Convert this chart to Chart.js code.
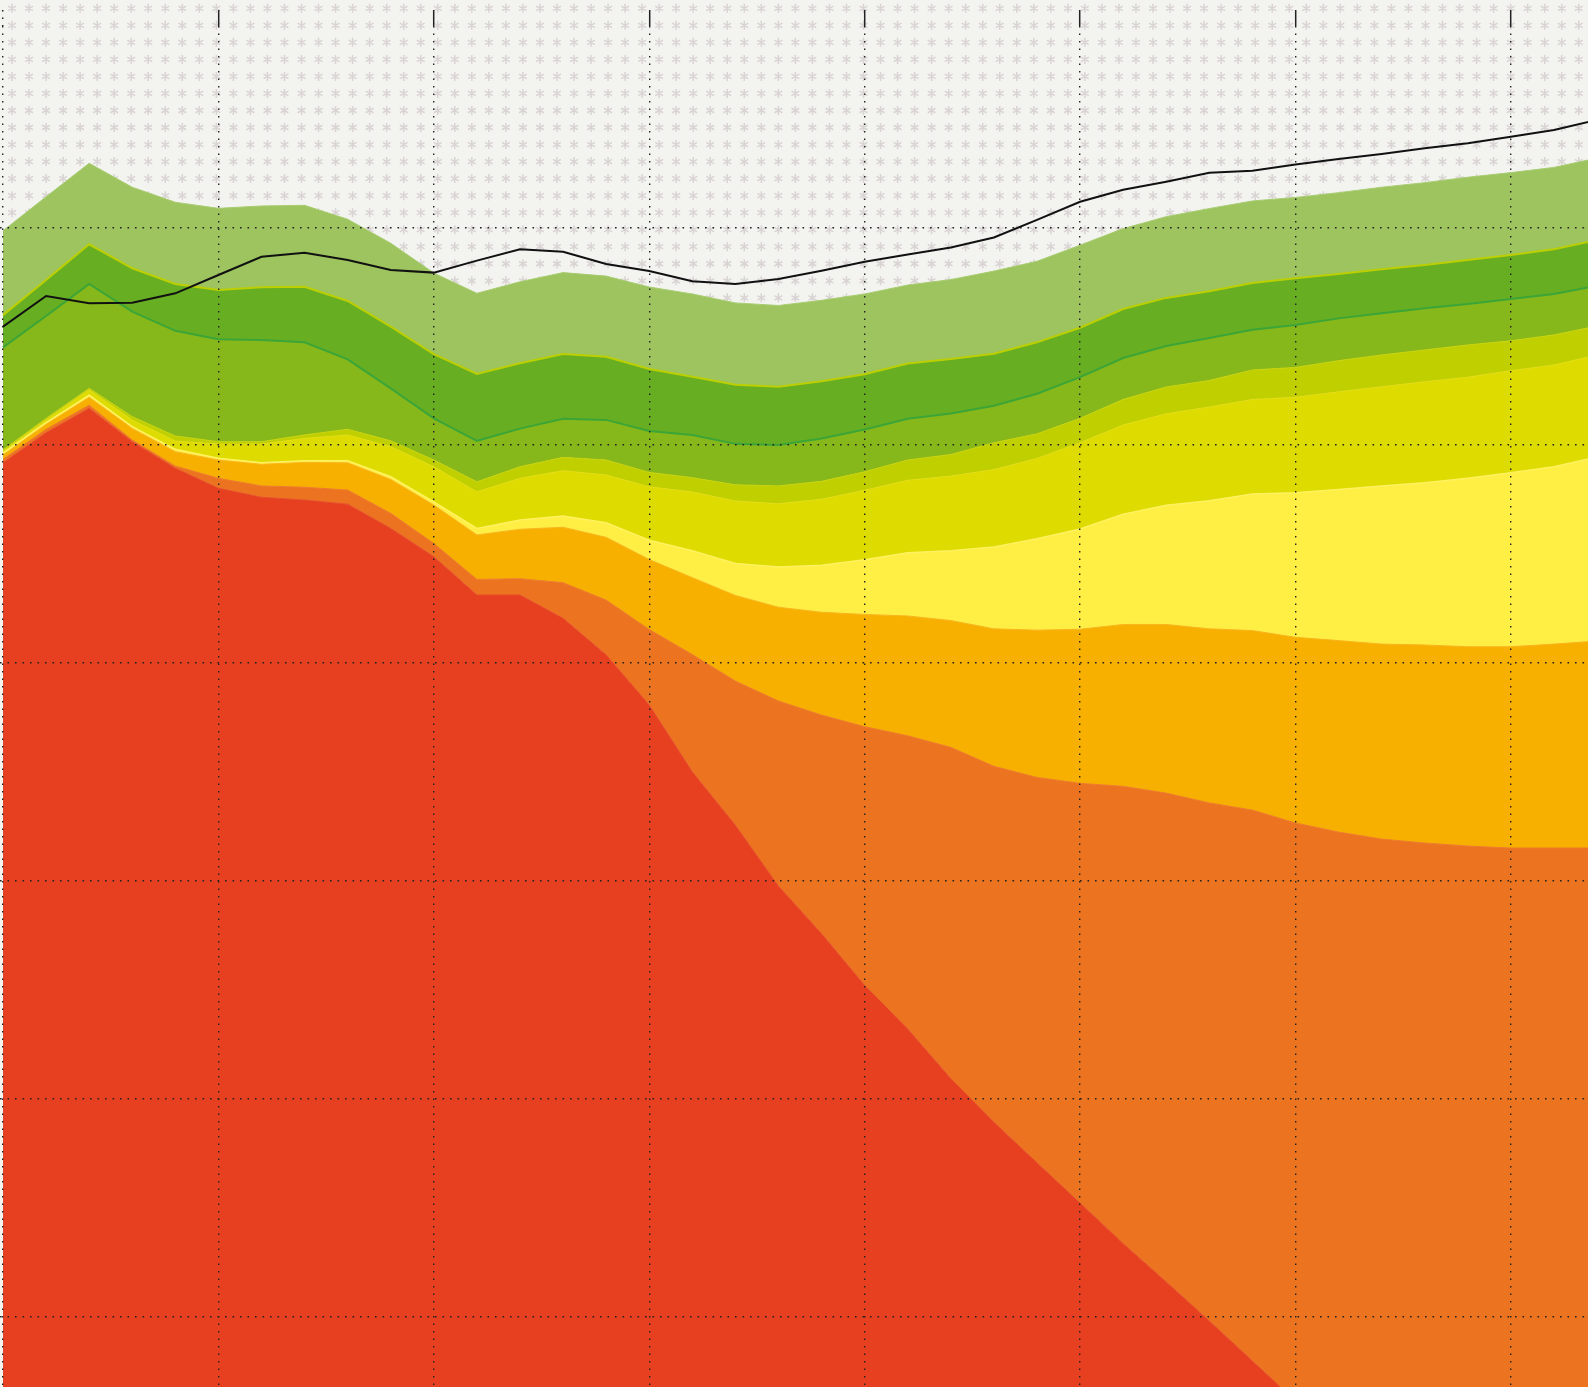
<!DOCTYPE html>
<html>
<head>
<meta charset="utf-8">
<script src="https://cdn.jsdelivr.net/npm/chart.js@4.4.1/dist/chart.umd.min.js"></script>
<style>
    html, body { margin: 0; padding: 0; background: #f3f3ef; }
    #wrap { width: 1588px; height: 1387px; }
</style>
</head>
<body>
<div id="wrap"><canvas id="layerChart" width="1588" height="1387"></canvas></div>
<script>
// x categories (one point per year) and grid positions
const years = [1980, 1981, 1982, 1983, 1984, 1985, 1986, 1987, 1988, 1989,
    1990, 1991, 1992, 1993, 1994, 1995, 1996, 1997, 1998, 1999,
    2000, 2001, 2002, 2003, 2004, 2005, 2006, 2007, 2008, 2009,
    2010, 2011, 2012, 2013, 2014, 2015, 2016, 2017];
const gridYears = [1980, 1985, 1990, 1995, 2000, 2005, 2010, 2015];
const gridValues = [100, 200, 300, 400, 500, 600];

// top edge of every band (bottom band first)
const redTop = [491.9, 505.7, 516.9, 501.6, 489.4, 480.2, 476.1, 474.8, 472.9, 461.8, 448.8, 431.2, 431.2, 420.5, 403.7, 380.7, 350.0, 325.5, 297.6, 275.7, 252.0, 232.0, 209.2, 189.2, 170.6, 152.1, 133.5, 115.9, 98.0, 79.6, 61.3, 45.0, 30.0, 18.0, 10.0, 6.0, 3.0, 2.0];
const orangeTop = [493.5, 507.3, 518.4, 502.4, 490.4, 484.8, 481.3, 480.7, 479.4, 468.7, 454.9, 438.4, 438.7, 436.9, 428.9, 415.4, 403.9, 391.7, 382.6, 376.1, 370.8, 366.6, 361.3, 352.6, 347.5, 344.8, 343.4, 340.3, 335.8, 332.5, 326.6, 322.4, 319.2, 317.4, 316.0, 315.1, 315.1, 315.1];
const amberTop = [495.5, 509.6, 522.0, 507.7, 497.0, 493.2, 491.2, 492.1, 491.9, 484.3, 472.5, 458.8, 461.4, 462.3, 457.7, 447.5, 439.2, 431.0, 425.6, 423.3, 422.3, 421.6, 419.5, 415.7, 415.1, 415.5, 417.7, 417.7, 415.7, 414.9, 411.8, 410.3, 408.7, 408.3, 407.5, 407.5, 408.7, 410.1];
const lemonTop = [496.3, 510.3, 523.0, 508.5, 498.1, 494.0, 491.9, 492.9, 492.9, 485.5, 474.0, 461.8, 465.7, 467.5, 464.4, 456.4, 451.5, 445.7, 444.1, 444.9, 447.4, 450.6, 451.5, 453.3, 457.0, 461.5, 468.3, 472.4, 474.5, 477.6, 478.2, 479.7, 481.3, 482.8, 484.8, 487.4, 490.1, 494.6];
const yellowTop = [497.1, 511.5, 525.3, 511.5, 501.9, 500.5, 500.5, 503.1, 504.7, 499.3, 490.1, 478.6, 484.8, 488.3, 486.3, 480.9, 478.5, 474.4, 473.1, 475.2, 479.3, 483.9, 485.8, 488.8, 493.9, 501.1, 509.3, 514.4, 517.5, 521.0, 522.0, 524.5, 526.8, 529.1, 531.2, 534.2, 536.8, 541.4];
const limeTop = [497.8, 512.3, 526.1, 513.1, 504.2, 501.6, 501.6, 504.7, 507.3, 502.0, 493.2, 483.2, 490.1, 494.4, 493.2, 487.5, 485.1, 481.8, 481.3, 483.4, 487.8, 493.2, 495.7, 501.1, 505.2, 512.3, 521.0, 526.7, 529.7, 534.5, 535.7, 538.8, 541.4, 543.7, 546.0, 547.9, 550.6, 554.7];
const midGreenTop = [544.9, 559.3, 574.0, 561.3, 552.5, 548.6, 548.3, 547.2, 539.4, 526.1, 512.3, 502.0, 507.6, 512.1, 511.6, 506.5, 504.7, 500.6, 500.1, 503.1, 507.2, 512.1, 514.5, 518.1, 523.6, 531.2, 540.0, 545.5, 549.2, 553.0, 555.2, 558.2, 560.5, 562.8, 564.8, 567.1, 569.4, 573.1];
const darkGreenTop = [559.7, 575.8, 592.2, 581.2, 574.0, 571.2, 572.5, 572.7, 566.2, 554.4, 541.8, 532.7, 537.6, 541.8, 540.6, 535.0, 531.4, 527.7, 526.8, 529.3, 532.6, 537.5, 539.5, 542.0, 547.2, 553.9, 562.5, 567.6, 570.7, 574.4, 576.6, 578.6, 580.7, 582.7, 585.0, 587.3, 589.9, 594.2];
const lightGreenTop = [598.4, 614.0, 629.4, 618.4, 611.5, 608.7, 609.8, 610.1, 603.7, 592.7, 579.0, 569.7, 575.0, 579.2, 577.6, 572.6, 569.4, 565.3, 564.1, 566.5, 569.4, 573.5, 576.0, 579.9, 584.4, 591.8, 599.4, 604.9, 608.6, 612.1, 613.7, 615.9, 618.4, 620.5, 623.0, 625.1, 627.5, 631.8];

// separate black line
const blackLine = [554.4, 568.5, 565.1, 565.4, 569.7, 578.1, 586.5, 588.3, 585.0, 580.4, 579.2, 584.7, 589.9, 588.8, 583.2, 579.9, 575.2, 574.0, 576.3, 580.1, 584.2, 587.5, 590.7, 595.3, 603.4, 611.7, 617.2, 620.9, 625.0, 626.0, 628.8, 631.3, 633.6, 636.3, 638.6, 641.6, 644.7, 649.3];

const dotDash = [1.6, 5.9];

const starBackground = {
    id: 'starBackground',
    beforeDraw(chart) {
        const ctx = chart.ctx;
        ctx.save();
        ctx.fillStyle = '#f3f3ef';
        ctx.fillRect(0, 0, chart.width, chart.height);
        ctx.strokeStyle = '#d9d4d3';
        ctx.lineWidth = 1.5;
        ctx.beginPath();
        for (let y = 8.3; y < chart.height + 10; y += 17.03) {
            for (let x = 12; x < chart.width + 10; x += 17.03) {
                for (let a = 0; a < 3; a++) {
                    const ang = Math.PI / 2 + a * Math.PI / 3;
                    const dx = Math.cos(ang) * 4.5;
                    const dy = Math.sin(ang) * 4.5;
                    ctx.moveTo(x - dx, y - dy);
                    ctx.lineTo(x + dx, y + dy);
                }
            }
        }
        ctx.stroke();
        ctx.restore();
    }
};

function band(label, data, fillColor, lineColor, lineWidth, fill) {
    return {
        label: label,
        data: data,
        backgroundColor: fillColor,
        borderColor: lineColor,
        borderWidth: lineWidth,
        fill: fill,
        pointRadius: 0,
        tension: 0
    };
}

new Chart(document.getElementById('layerChart'), {
    type: 'line',
    data: {
        labels: years,
        datasets: [
            band('red', redTop, '#e64021', '#e84a29', 1, 'start'),
            band('orange', orangeTop, '#ec7420', '#ee7b29', 1, '-1'),
            band('amber', amberTop, '#f8b000', '#f9b61a', 1, '-1'),
            band('lemon', lemonTop, '#ffee44', '#fff25e', 1.5, '-1'),
            band('yellow', yellowTop, '#dddb00', '#e2dd12', 1, '-1'),
            band('lime', limeTop, '#c0cf00', '#c8d40c', 1, '-1'),
            band('midGreen', midGreenTop, '#86b71b', '#3ca537', 2, '-1'),
            band('darkGreen', darkGreenTop, '#67ae23', '#bccf00', 2, '-1'),
            band('lightGreen', lightGreenTop, '#9dc45f', '#a9cd72', 1, '-1'),
            {
                label: 'line',
                data: blackLine,
                borderColor: '#111111',
                borderWidth: 2,
                fill: false,
                pointRadius: 0,
                tension: 0,
                order: -1
            }
        ]
    },
    options: {
        responsive: false,
        animation: false,
        layout: { padding: { top: 10, left: 0, right: 0, bottom: 0 } },
        plugins: {
            legend: { display: false },
            tooltip: { enabled: false }
        },
        scales: {
            x: {
                type: 'linear',
                position: 'top',
                min: 1979.93,
                max: 2016.79,
                afterBuildTicks: s => { s.ticks = gridYears.map(v => ({ value: v })); },
                ticks: { display: false },
                grid: {
                    z: 1,
                    color: '#222222',
                    lineWidth: 1.4,
                    tickLength: 16,
                    tickWidth: 1.5,
                    tickColor: '#222222',
                    tickBorderDash: ctx => (ctx.tick && ctx.tick.value === gridYears[0]) ? dotDash : []
                },
                border: { display: false, dash: dotDash }
            },
            y: {
                type: 'linear',
                min: 67.7,
                max: 692.4,
                afterBuildTicks: s => { s.ticks = gridValues.map(v => ({ value: v })); },
                ticks: { display: false },
                grid: {
                    z: 1,
                    color: '#222222',
                    lineWidth: 1.4,
                    drawTicks: false
                },
                border: { display: false, dash: dotDash }
            }
        }
    },
    plugins: [starBackground]
});
</script>
</body>
</html>
